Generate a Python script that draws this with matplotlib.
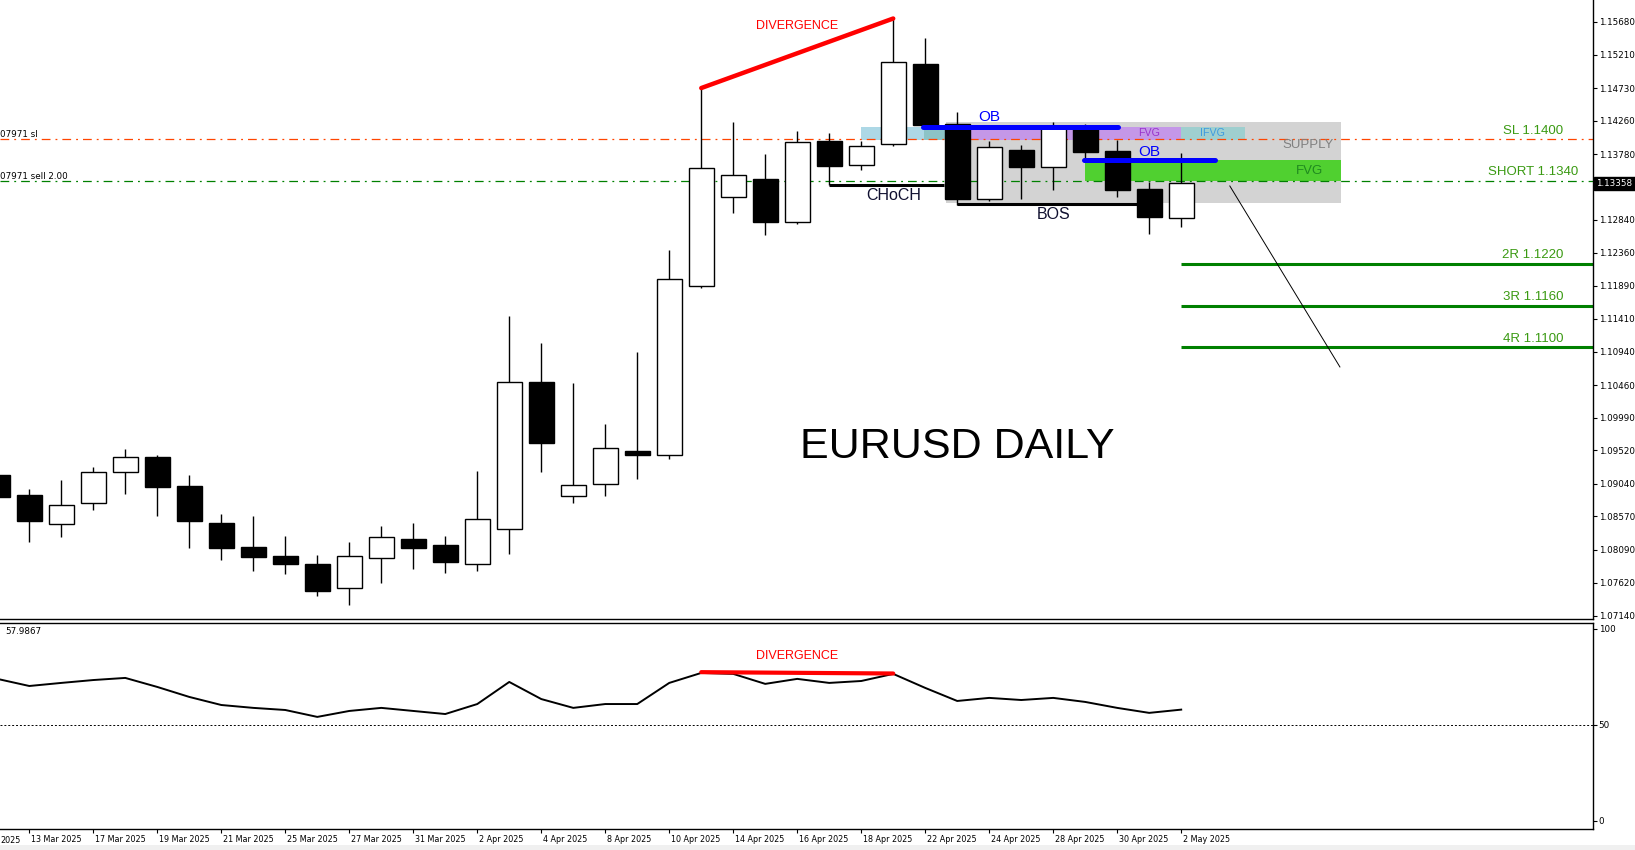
import matplotlib
matplotlib.use('Agg')

import matplotlib.pyplot as plt
import matplotlib.transforms as mtransforms
from matplotlib.patches import Rectangle

# ---------------- data ----------------
dates = ['12 Mar', '13 Mar', '14 Mar', '17 Mar', '18 Mar', '19 Mar', '20 Mar', '21 Mar',
         '24 Mar', '25 Mar', '26 Mar', '27 Mar', '28 Mar', '31 Mar', '1 Apr', '2 Apr',
         '3 Apr', '4 Apr', '7 Apr', '8 Apr', '9 Apr', '10 Apr', '11 Apr', '14 Apr',
         '15 Apr', '16 Apr', '17 Apr', '18 Apr', '21 Apr', '22 Apr', '23 Apr', '24 Apr',
         '25 Apr', '28 Apr', '29 Apr', '30 Apr', '1 May', '2 May']
opens = [1.0917, 1.0888, 1.0846, 1.0877, 1.0921, 1.0943, 1.0901, 1.0848,
         1.0813, 1.0800, 1.0789, 1.0754, 1.0797, 1.0825, 1.0816, 1.0788,
         1.0839, 1.1050, 1.0887, 1.0903, 1.0951, 1.0946, 1.1189, 1.1316,
         1.1342, 1.1280, 1.1397, 1.1362, 1.1393, 1.1508, 1.1421, 1.1313,
         1.1384, 1.1360, 1.1419, 1.1382, 1.1328, 1.1286]
highs = [1.0935, 1.0896, 1.0910, 1.0928, 1.0954, 1.0945, 1.0917, 1.0861,
         1.0858, 1.0829, 1.0802, 1.0820, 1.0843, 1.0848, 1.0829, 1.0922,
         1.1145, 1.1106, 1.1049, 1.0990, 1.1093, 1.1240, 1.1473, 1.1424,
         1.1378, 1.1411, 1.1408, 1.1397, 1.1573, 1.1545, 1.1438, 1.1397,
         1.1391, 1.1424, 1.1422, 1.1398, 1.1338, 1.1380]
lows = [1.0876, 1.0821, 1.0828, 1.0866, 1.0890, 1.0858, 1.0812, 1.0795,
        1.0779, 1.0774, 1.0742, 1.0730, 1.0762, 1.0782, 1.0776, 1.0778,
        1.0803, 1.0921, 1.0877, 1.0886, 1.0911, 1.0940, 1.1185, 1.1294,
        1.1262, 1.1278, 1.1333, 1.1355, 1.1390, 1.1415, 1.1305, 1.1310,
        1.1314, 1.1327, 1.1367, 1.1316, 1.1263, 1.1273]
closes = [1.0885, 1.0850, 1.0873, 1.0921, 1.0942, 1.0900, 1.0851, 1.0811,
          1.0799, 1.0789, 1.0750, 1.0800, 1.0827, 1.0812, 1.0791, 1.0854,
          1.1050, 1.0962, 1.0902, 1.0956, 1.0946, 1.1199, 1.1358, 1.1348,
          1.1280, 1.1396, 1.1361, 1.1389, 1.1510, 1.1420, 1.1313, 1.1388,
          1.1360, 1.1419, 1.1381, 1.1327, 1.1287, 1.13358]
osc = [74.0, 70.3, 71.9, 73.4, 74.5, 69.8, 64.6, 60.4, 58.9, 57.8, 54.2, 57.3,
       58.9, 57.3, 55.7, 60.9, 72.4, 63.5, 58.9, 60.9, 60.9, 71.9, 77.1, 76.6,
       71.4, 74.0, 71.9, 72.9, 76.6, 69.3, 62.5, 64.1, 63.0, 64.1, 62.0, 58.9,
       56.3, 57.99]

price_ticks = [1.15680, 1.15210, 1.14730, 1.14260, 1.13780, 1.12840, 1.12360,
               1.11890, 1.11410, 1.10940, 1.10460, 1.09990, 1.09520, 1.09040,
               1.08570, 1.08090, 1.07620, 1.07140]
osc_ticks = [100, 50, 0]

SL_PRICE = 1.1400
SHORT_PRICE = 1.1340
TARGETS = [('2R 1.1220', 1.1220), ('3R 1.1160', 1.1160), ('4R 1.1100', 1.1100)]
LAST_PRICE = 1.13358

# ---------------- style ----------------
W, H = 1635, 850
AX_RIGHT = 1593
SMALL = 6.3
DATE_FS = 5.8
ARIAL = 'Liberation Sans'
TXT_GREEN = '#3a9a12'

fig = plt.figure(figsize=(W / 100, H / 100), dpi=100)
ax = fig.add_axes([0, 1 - 619 / H, AX_RIGHT / W, 619 / H])
ax2 = fig.add_axes([0, 1 - 829 / H, AX_RIGHT / W, (829 - 623) / H], sharex=ax)

x = list(range(len(dates)))
XMIN, XMAX = 0.084, 49.87

# ---------------- candles ----------------
BODY_W = 0.77
for i in x:
    o, hi, lo, c = opens[i], highs[i], lows[i], closes[i]
    ax.vlines(i, lo, hi, color='black', lw=1.0, zorder=3)
    bottom = min(o, c)
    height = max(abs(c - o), 0.00035)
    face = 'white' if c >= o else 'black'
    ax.add_patch(Rectangle((i - BODY_W / 2, bottom), BODY_W, height,
                           facecolor=face, edgecolor='black', lw=1.0, zorder=4))

# ---------------- zones ----------------
ax.add_patch(Rectangle((29.65, 1.13078), 42.0 - 29.65, 1.14242 - 1.13078,
                       facecolor='#d3d3d3', edgecolor='none', zorder=1))
ax.add_patch(Rectangle((27.0, 1.13983), 28.95 - 27.0, 1.14175 - 1.13983,
                       facecolor='#add8e6', edgecolor='none', zorder=1.5))
ax.add_patch(Rectangle((28.95, 1.13983), 29.65 - 28.95, 1.14175 - 1.13983,
                       facecolor='#8cc3c6', edgecolor='none', zorder=1.5))
ax.add_patch(Rectangle((29.65, 1.13983), 37.0 - 29.65, 1.14175 - 1.13983,
                       facecolor='#c497e8', edgecolor='none', zorder=1.5))
ax.add_patch(Rectangle((37.0, 1.13983), 39.0 - 37.0, 1.14175 - 1.13983,
                       facecolor='#9fcfcf', edgecolor='none', zorder=1.5))
ax.add_patch(Rectangle((34.0, 1.13394), 42.0 - 34.0, 1.13696 - 1.13394,
                       facecolor='#50d030', edgecolor='none', zorder=1.5))

# ---------------- trade lines ----------------
ax.axhline(SL_PRICE, color='#ff4500', lw=0.9, ls=(0, (7, 4, 1.5, 4)), zorder=2)
ax.axhline(SHORT_PRICE, color='#008000', lw=0.9, ls=(0, (7, 4, 1.5, 4)), zorder=2)
ax.text(0, SL_PRICE, '07971 sl', transform=ax.get_yaxis_transform(), fontsize=SMALL,
        ha='left', va='bottom')
ax.text(0, SHORT_PRICE, '07971 sell 2.00', transform=ax.get_yaxis_transform(),
        fontsize=SMALL, ha='left', va='bottom')

LABEL_X = 47.99
ax.text(LABEL_X, SL_PRICE + 0.0003, 'SL 1.1400', color=TXT_GREEN, fontsize=9.5,
        family=ARIAL, ha='center', va='bottom', zorder=6)
ax.text(LABEL_X, SHORT_PRICE + 0.0003, 'SHORT 1.1340', color=TXT_GREEN, fontsize=9.5,
        family=ARIAL, ha='center', va='bottom', zorder=6)
for lab, p in TARGETS:
    ax.hlines(p, 37.0, XMAX, color='#008000', lw=2.2, zorder=2)
    ax.text(LABEL_X, p + 0.0004, lab, color=TXT_GREEN, fontsize=9.5, family=ARIAL,
            ha='center', va='bottom', zorder=6)

# ---------------- structure marks ----------------
ax.plot([22, 28], [1.1473, 1.1573], color='red', lw=3.2, solid_capstyle='round', zorder=5)
ax.text(24.99, 1.15622, 'DIVERGENCE', color='red', fontsize=9, family=ARIAL,
        ha='center', va='center', zorder=6)

ax.plot([28.93, 35.02], [1.14175, 1.14175], color='#0000ff', lw=3.6,
        solid_capstyle='round', zorder=5)
ax.plot([33.96, 38.05], [1.13696, 1.13696], color='#0000ff', lw=3.6,
        solid_capstyle='round', zorder=5)
ax.text(31.0, 1.14314, 'OB', color='#0000ff', fontsize=11, family=ARIAL,
        ha='center', va='center', zorder=6)
ax.text(35.99, 1.13811, 'OB', color='#0000ff', fontsize=11, family=ARIAL,
        ha='center', va='center', zorder=6)

ax.hlines(1.13336, 25.99, 29.6, color='black', lw=2.2, zorder=3.5)
ax.text(28.0, 1.13178, 'CHoCH', color='#101030', fontsize=11.5, family=ARIAL,
        ha='center', va='center', zorder=6)
ax.hlines(1.13063, 29.99, 35.65, color='black', lw=2.2, zorder=3.5)
ax.text(33.0, 1.12905, 'BOS', color='#101030', fontsize=11.5, family=ARIAL,
        ha='center', va='center', zorder=6)

ax.text(40.96, 1.13912, 'SUPPLY', color='#808080', fontsize=9.5, family=ARIAL,
        ha='center', va='center', zorder=6)
ax.text(41.0, 1.13538, 'FVG', color='#1f8a1f', fontsize=9.5, family=ARIAL,
        ha='center', va='center', zorder=6)
ax.text(35.99, 1.14084, 'FVG', color='#9932cc', fontsize=7.7, family=ARIAL,
        ha='center', va='center', zorder=6)
ax.text(37.99, 1.14084, 'IFVG', color='#3d9be0', fontsize=7.7, family=ARIAL,
        ha='center', va='center', zorder=6)

ax.plot([38.52, 41.96], [1.13322, 1.10720], color='black', lw=0.7, zorder=5)

ax.text(29.99, 1.0957, 'EURUSD DAILY', color='black', fontsize=31, family=ARIAL,
        ha='center', va='center', zorder=6)

# ---------------- main axes styling ----------------
ax.set_xlim(XMIN, XMAX)
ax.set_ylim(1.07096, 1.15996)
for s in ['left', 'top']:
    ax.spines[s].set_visible(False)
ax.spines['right'].set_linewidth(1.0)
ax.spines['bottom'].set_linewidth(1.0)
ax.yaxis.tick_right()
ax.set_yticks(price_ticks)
ax.set_yticklabels([f'{p:.5f}' for p in price_ticks])
ax.tick_params(axis='y', length=3, pad=1, labelsize=SMALL, width=0.8)
ax.tick_params(axis='x', bottom=False, labelbottom=False)
ax.annotate(f'{LAST_PRICE:.5f}', xy=(1.0, LAST_PRICE),
            xycoords=('axes fraction', 'data'), xytext=(2.5, 0),
            textcoords='offset points', fontsize=SMALL, color='white',
            ha='left', va='center',
            bbox=dict(boxstyle='square,pad=0.25', fc='black', ec='black'),
            annotation_clip=False)

# ---------------- oscillator pane ----------------
ax2.plot(x, osc, color='black', lw=1.4, zorder=3)
ax2.axhline(50, color='black', lw=0.7, ls=(0, (2, 2)), zorder=2)
ax2.plot([22, 28], [77.5, 76.8], color='red', lw=3, solid_capstyle='round', zorder=4)
ax2.text(24.99, 86.0, 'DIVERGENCE', color='red', fontsize=9, family=ARIAL,
         ha='center', va='center')
ax2.text(0.003, 0.961, '57.9867', transform=ax2.transAxes, fontsize=SMALL,
         ha='left', va='center')
ax2.set_ylim(-4.17, 103.1)
ax2.spines['left'].set_visible(False)
for s in ['top', 'right', 'bottom']:
    ax2.spines[s].set_linewidth(1.0)
ax2.yaxis.tick_right()
ax2.set_yticks(osc_ticks)
ax2.set_yticklabels([str(t) for t in osc_ticks])
ax2.tick_params(axis='y', length=3, pad=1, labelsize=SMALL, width=0.8)

tick_idx = list(range(1, len(dates), 2))
tick_labels = [dates[i] + ' 2025' for i in tick_idx]
ax2.set_xticks(tick_idx)
ax2.set_xticklabels(tick_labels)
ax2.tick_params(axis='x', length=3, pad=1, labelsize=DATE_FS, width=0.8)
offset = mtransforms.ScaledTranslation(1.5 / 100, 0, fig.dpi_scale_trans)
for lab in ax2.get_xticklabels():
    lab.set_horizontalalignment('left')
    lab.set_transform(lab.get_transform() + offset)
# tail of the 11 Mar label that shows at the left edge
ax2.annotate('2025', xy=(0, 0), xycoords='axes fraction', xytext=(0, -5.2),
             textcoords='offset points', fontsize=DATE_FS, ha='left', va='top')
ax2.set_xlim(XMIN, XMAX)

# light grey strip at the bottom
fig.patches.append(Rectangle((0, 0), 1, 5 / H, transform=fig.transFigure,
                             facecolor='#f0f0f0', edgecolor='none'))

fig.savefig('out.png', dpi=100)
